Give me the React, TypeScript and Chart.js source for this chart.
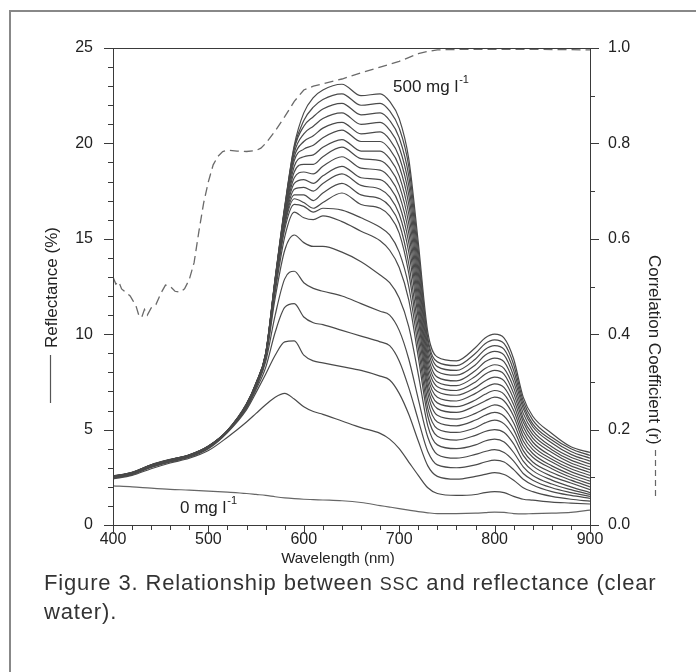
import React, { useEffect, useRef } from 'react';
import { Chart, registerables } from 'chart.js';

Chart.register(...registerables);

// Wavelength grid (nm) shared by all reflectance spectra
const WAVELENGTHS = [400, 420, 440, 460, 480, 500, 520, 540, 550, 560, 570, 580, 590, 600, 610, 620, 640, 660, 680, 690, 700, 710, 720, 730, 740, 760, 780, 790, 800, 810, 820, 830, 840, 860, 880, 900];

// Reflectance (%) for each SSC level (mg/l)
const R_0 = [2.05, 2.0, 1.93, 1.87, 1.83, 1.78, 1.72, 1.65, 1.6, 1.55, 1.48, 1.42, 1.38, 1.35, 1.33, 1.31, 1.27, 1.18, 1.02, 0.94, 0.86, 0.78, 0.7, 0.64, 0.6, 0.6, 0.62, 0.65, 0.68, 0.66, 0.6, 0.58, 0.6, 0.62, 0.66, 0.78];
const R_25 = [2.42, 2.6, 2.95, 3.25, 3.5, 3.9, 4.6, 5.4, 5.85, 6.3, 6.7, 6.9, 6.6, 6.2, 5.95, 5.8, 5.45, 5.1, 4.8, 4.5, 4.0, 3.3, 2.6, 1.95, 1.65, 1.55, 1.6, 1.7, 1.75, 1.7, 1.5, 1.35, 1.3, 1.2, 1.15, 1.1];
const R_50 = [2.45, 2.64, 3.02, 3.3, 3.55, 4.0, 4.85, 6.05, 6.95, 7.9, 8.9, 9.6, 9.65, 8.9, 8.6, 8.5, 8.3, 8.1, 7.8, 7.6, 6.9, 5.8, 4.4, 3.1, 2.55, 2.4, 2.55, 2.65, 2.75, 2.65, 2.35, 1.95, 1.75, 1.5, 1.35, 1.25];
const R_75 = [2.46, 2.66, 3.04, 3.32, 3.57, 4.03, 4.88, 6.12, 7.1, 8.25, 10.1, 11.4, 11.6, 10.9, 10.6, 10.5, 10.2, 9.9, 9.6, 9.4, 8.6, 7.2, 5.5, 3.85, 3.15, 3.0, 3.15, 3.3, 3.4, 3.3, 2.9, 2.4, 2.1, 1.75, 1.55, 1.4];
const R_100 = [2.47, 2.67, 3.06, 3.34, 3.59, 4.05, 4.9, 6.18, 7.2, 8.55, 11.0, 12.9, 13.3, 12.7, 12.4, 12.25, 12.0, 11.6, 11.2, 11.0, 10.2, 8.7, 6.6, 4.6, 3.7, 3.5, 3.7, 3.85, 3.95, 3.8, 3.35, 2.7, 2.35, 1.95, 1.7, 1.5];
const R_125 = [2.48, 2.68, 3.07, 3.35, 3.6, 4.06, 4.9, 6.2, 7.27, 8.7, 11.9, 14.4, 15.2, 14.8, 14.6, 14.6, 14.3, 13.8, 13.1, 12.7, 11.9, 10.4, 7.9, 5.2, 4.2, 4.0, 4.2, 4.4, 4.5, 4.35, 3.8, 3.05, 2.6, 2.15, 1.85, 1.6];
const R_150 = [2.49, 2.69, 3.08, 3.36, 3.61, 4.07, 4.9, 6.22, 7.3, 8.8, 12.2, 15.1, 16.4, 16.1, 16.0, 16.2, 15.9, 15.4, 14.9, 14.4, 13.5, 11.8, 8.8, 5.7, 4.65, 4.45, 4.7, 4.9, 5.0, 4.85, 4.25, 3.35, 2.85, 2.35, 2.0, 1.7];
const R_175 = [2.5, 2.7, 3.09, 3.37, 3.62, 4.08, 4.9, 6.24, 7.32, 8.85, 12.4, 15.5, 16.8, 16.7, 16.4, 16.6, 16.5, 16.1, 15.6, 15.2, 14.3, 12.5, 9.3, 6.1, 5.05, 4.85, 5.1, 5.35, 5.5, 5.3, 4.65, 3.65, 3.1, 2.55, 2.2, 1.85];
const R_200 = [2.5, 2.7, 3.1, 3.38, 3.62, 4.08, 4.9, 6.25, 7.34, 8.85, 12.5, 15.7, 17.1, 16.9, 16.6, 16.9, 17.4, 16.8, 16.6, 16.2, 15.3, 13.2, 9.8, 6.5, 5.4, 5.2, 5.5, 5.75, 5.9, 5.7, 5.0, 3.9, 3.3, 2.75, 2.35, 2.0];
const R_225 = [2.51, 2.71, 3.1, 3.38, 3.63, 4.09, 4.91, 6.26, 7.35, 8.85, 12.5, 15.8, 17.3, 17.3, 17.0, 17.4, 17.9, 17.3, 17.1, 16.7, 15.8, 13.7, 10.3, 6.9, 5.75, 5.55, 5.85, 6.1, 6.3, 6.1, 5.35, 4.15, 3.55, 2.95, 2.5, 2.15];
const R_250 = [2.52, 2.71, 3.11, 3.39, 3.63, 4.09, 4.91, 6.27, 7.36, 8.9, 12.6, 15.9, 17.6, 17.7, 17.5, 17.9, 18.4, 17.8, 17.6, 17.2, 16.3, 14.3, 10.8, 7.2, 6.1, 5.9, 6.25, 6.5, 6.7, 6.5, 5.7, 4.4, 3.75, 3.1, 2.65, 2.3];
const R_275 = [2.52, 2.72, 3.11, 3.39, 3.64, 4.1, 4.92, 6.28, 7.37, 8.9, 12.6, 16.0, 17.9, 18.1, 17.9, 18.3, 18.8, 18.2, 18.1, 17.7, 16.8, 14.8, 11.2, 7.5, 6.4, 6.2, 6.55, 6.85, 7.05, 6.85, 6.0, 4.65, 3.95, 3.3, 2.8, 2.45];
const R_300 = [2.53, 2.72, 3.12, 3.4, 3.64, 4.1, 4.92, 6.29, 7.38, 8.9, 12.7, 16.1, 18.2, 18.5, 18.4, 18.8, 19.3, 18.7, 18.6, 18.2, 17.3, 15.3, 11.6, 7.8, 6.7, 6.5, 6.9, 7.2, 7.4, 7.2, 6.3, 4.9, 4.15, 3.45, 2.95, 2.6];
const R_325 = [2.53, 2.73, 3.12, 3.4, 3.65, 4.11, 4.93, 6.3, 7.39, 8.92, 12.7, 16.2, 18.5, 18.9, 18.9, 19.3, 19.8, 19.2, 19.1, 18.7, 17.8, 15.8, 12.0, 8.1, 7.0, 6.8, 7.2, 7.55, 7.75, 7.55, 6.6, 5.15, 4.35, 3.6, 3.1, 2.75];
const R_350 = [2.54, 2.73, 3.13, 3.41, 3.65, 4.11, 4.93, 6.3, 7.4, 8.93, 12.8, 16.3, 18.8, 19.3, 19.4, 19.8, 20.2, 19.6, 19.6, 19.2, 18.3, 16.3, 12.4, 8.4, 7.25, 7.05, 7.5, 7.9, 8.1, 7.9, 6.9, 5.4, 4.55, 3.8, 3.25, 2.9];
const R_375 = [2.54, 2.74, 3.13, 3.41, 3.66, 4.12, 4.94, 6.31, 7.41, 8.94, 12.8, 16.4, 19.1, 19.7, 19.9, 20.3, 20.7, 20.1, 20.1, 19.7, 18.8, 16.8, 12.8, 8.7, 7.5, 7.3, 7.8, 8.2, 8.4, 8.2, 7.2, 5.6, 4.75, 3.95, 3.4, 3.05];
const R_400 = [2.55, 2.74, 3.14, 3.42, 3.66, 4.12, 4.94, 6.32, 7.42, 8.95, 12.85, 16.5, 19.3, 20.1, 20.4, 20.8, 21.1, 20.5, 20.6, 20.2, 19.3, 17.3, 13.2, 9.0, 7.75, 7.55, 8.1, 8.55, 8.75, 8.55, 7.5, 5.85, 4.95, 4.1, 3.55, 3.2];
const R_425 = [2.55, 2.75, 3.14, 3.42, 3.67, 4.13, 4.95, 6.33, 7.43, 8.96, 12.85, 16.55, 19.5, 20.5, 20.9, 21.3, 21.6, 21.0, 21.1, 20.7, 19.8, 17.8, 13.6, 9.3, 8.05, 7.85, 8.4, 8.9, 9.1, 8.9, 7.8, 6.1, 5.15, 4.3, 3.7, 3.35];
const R_450 = [2.56, 2.75, 3.15, 3.43, 3.67, 4.13, 4.95, 6.34, 7.44, 8.97, 12.9, 16.6, 19.7, 20.9, 21.4, 21.8, 22.1, 21.5, 21.6, 21.2, 20.3, 18.3, 14.0, 9.6, 8.3, 8.1, 8.7, 9.2, 9.4, 9.2, 8.1, 6.3, 5.3, 4.45, 3.85, 3.5];
const R_475 = [2.56, 2.76, 3.15, 3.43, 3.68, 4.14, 4.96, 6.35, 7.45, 8.98, 12.9, 16.65, 19.8, 21.2, 21.9, 22.3, 22.6, 22.0, 22.1, 21.7, 20.8, 18.8, 14.4, 9.8, 8.55, 8.35, 9.0, 9.5, 9.7, 9.5, 8.4, 6.5, 5.5, 4.6, 4.0, 3.65];
const R_500 = [2.57, 2.76, 3.16, 3.44, 3.68, 4.14, 4.96, 6.36, 7.46, 9.0, 12.95, 16.7, 19.9, 21.6, 22.4, 22.8, 23.1, 22.5, 22.6, 22.2, 21.3, 19.2, 14.8, 10.1, 8.8, 8.6, 9.3, 9.8, 10.0, 9.8, 8.7, 6.7, 5.7, 4.8, 4.1, 3.8];

const SPECTRA = [R_0, R_25, R_50, R_75, R_100, R_125, R_150, R_175, R_200, R_225, R_250, R_275, R_300, R_325, R_350, R_375, R_400, R_425, R_450, R_475, R_500];

// Correlation coefficient (r) between SSC and reflectance
const CORR_WAVELENGTHS = [400, 403, 406, 409, 412, 415, 418, 421, 424, 427, 430, 433, 436, 440, 445, 450, 455, 460, 465, 470, 475, 480, 485, 490, 495, 500, 505, 510, 515, 520, 530, 540, 550, 555, 560, 570, 580, 590, 600, 610, 620, 640, 660, 680, 700, 720, 730, 740, 760, 800, 850, 900];
const CORR_R = [0.52, 0.505, 0.51, 0.495, 0.49, 0.485, 0.48, 0.47, 0.46, 0.44, 0.435, 0.452, 0.44, 0.455, 0.462, 0.485, 0.503, 0.5, 0.49, 0.488, 0.495, 0.515, 0.55, 0.615, 0.675, 0.72, 0.755, 0.773, 0.783, 0.786, 0.784, 0.783, 0.785, 0.79, 0.8, 0.826, 0.856, 0.888, 0.912, 0.92, 0.925, 0.935, 0.948, 0.96, 0.972, 0.988, 0.993, 0.996, 0.997, 0.997, 0.997, 0.996];

// Axis ticks
const X_TICKS = [400, 500, 600, 700, 800, 900];
const Y_TICKS = [0, 5, 10, 15, 20, 25];
const R_TICKS = ['0.0', '0.2', '0.4', '0.6', '0.8', '1.0'];

const FONT = '"Liberation Sans", Arial, Helvetica, sans-serif';
const AXIS = '#3a3a3a';
const TEXT = '#222';

const decor = {
  id: 'decor',
  afterDraw(chart: any) {
    const { ctx, chartArea: a, scales } = chart;
    const x = scales.x;
    const y = scales.y;
    const y2 = scales.y2;
    ctx.save();
    ctx.strokeStyle = AXIS;
    ctx.lineWidth = 1;
    ctx.strokeRect(Math.round(a.left) + 0.5, Math.round(a.top) + 0.5, Math.round(a.right - a.left), Math.round(a.bottom - a.top));
    ctx.beginPath();
    for (let v = 0; v <= 25; v += 1) {
      const p = Math.round(y.getPixelForValue(v)) + 0.5;
      const len = v % 5 === 0 ? 9 : 5;
      ctx.moveTo(a.left - len, p);
      ctx.lineTo(a.left, p);
    }
    for (let i = 0; i <= 10; i += 1) {
      const p = Math.round(y2.getPixelForValue(i / 10)) + 0.5;
      const len = i % 2 === 0 ? 9 : 5;
      ctx.moveTo(a.right, p);
      ctx.lineTo(a.right + len, p);
    }
    for (let w = 400; w <= 900; w += 20) {
      const p = Math.round(x.getPixelForValue(w)) + 0.5;
      const len = w % 100 === 0 ? 9 : 5;
      ctx.moveTo(p, a.bottom);
      ctx.lineTo(p, a.bottom + len);
    }
    ctx.stroke();

    ctx.fillStyle = TEXT;
    // left axis title with solid-line key
    ctx.save();
    ctx.translate(52, 348);
    ctx.rotate(-Math.PI / 2);
    ctx.font = `17px ${FONT}`;
    ctx.textAlign = 'left';
    ctx.textBaseline = 'middle';
    ctx.fillText('Reflectance (%)', 0, 0);
    ctx.restore();
    ctx.beginPath();
    ctx.strokeStyle = '#555';
    ctx.lineWidth = 1.2;
    ctx.moveTo(50.5, 355);
    ctx.lineTo(50.5, 403);
    ctx.stroke();

    // right axis title with dashed key
    ctx.save();
    ctx.translate(654, 255);
    ctx.rotate(Math.PI / 2);
    ctx.font = `17px ${FONT}`;
    ctx.textAlign = 'left';
    ctx.textBaseline = 'middle';
    ctx.fillText('Correlation Coefficient (r)', 0, 0);
    ctx.restore();
    ctx.beginPath();
    ctx.setLineDash([6, 4]);
    ctx.strokeStyle = '#666';
    ctx.lineWidth = 1.2;
    ctx.moveTo(655.5, 450);
    ctx.lineTo(655.5, 500);
    ctx.stroke();
    ctx.setLineDash([]);

    // x title
    ctx.font = `15px ${FONT}`;
    ctx.textAlign = 'center';
    ctx.textBaseline = 'middle';
    ctx.fillText('Wavelength (nm)', 338, 559);

    // curve annotations
    ctx.textAlign = 'left';
    ctx.font = `17px ${FONT}`;
    ctx.fillText('500 mg l', 393, 87);
    const w1 = ctx.measureText('500 mg l').width;
    ctx.font = `11px ${FONT}`;
    ctx.fillText('-1', 393 + w1 + 1, 80);
    ctx.font = `17px ${FONT}`;
    ctx.fillText('0 mg l', 180, 508);
    const w2 = ctx.measureText('0 mg l').width;
    ctx.font = `11px ${FONT}`;
    ctx.fillText('-1', 180 + w2 + 1, 501);
    ctx.restore();
  },
};

export default function App() {
  const ref = useRef<HTMLCanvasElement>(null);
  useEffect(() => {
    const datasets: any[] = SPECTRA.map((vals, k) => ({
      data: WAVELENGTHS.map((w, i) => ({ x: w, y: vals[i] })),
      yAxisID: 'y',
      borderColor: k === 0 ? '#666' : '#4a4a4a',
      borderWidth: 1.2,
      pointRadius: 0,
      fill: false,
      cubicInterpolationMode: 'monotone',
    }));
    datasets.push({
      data: CORR_WAVELENGTHS.map((w, i) => ({ x: w, y: CORR_R[i] })),
      yAxisID: 'y2',
      borderColor: '#6a6a6a',
      borderWidth: 1.3,
      borderDash: [9, 5],
      pointRadius: 0,
      fill: false,
      tension: 0,
    });
    const tickFont = { family: FONT, size: 16 };
    const chart = new Chart(ref.current as HTMLCanvasElement, {
      type: 'line',
      data: { datasets },
      options: {
        animation: false,
        responsive: false,
        events: [],
        layout: { padding: { top: 48, left: 0, right: 0, bottom: 0 } },
        plugins: { legend: { display: false }, tooltip: { enabled: false } },
        scales: {
          x: {
            type: 'linear',
            min: 400,
            max: 900,
            afterFit: (s: any) => { s.height = 147; },
            afterBuildTicks: (s: any) => { s.ticks = X_TICKS.map((v) => ({ value: v })); },
            grid: { display: true, drawOnChartArea: false, drawTicks: false },
            border: { display: false },
            ticks: { font: tickFont, color: TEXT, padding: 5, maxRotation: 0 },
          },
          y: {
            type: 'linear',
            position: 'left',
            min: 0,
            max: 25,
            afterFit: (s: any) => { s.width = 113; },
            afterBuildTicks: (s: any) => { s.ticks = Y_TICKS.map((v) => ({ value: v })); },
            grid: { display: true, drawOnChartArea: false, drawTicks: false },
            border: { display: false },
            ticks: { font: tickFont, color: TEXT, padding: 20 },
          },
          y2: {
            type: 'linear',
            position: 'right',
            min: 0,
            max: 1,
            afterFit: (s: any) => { s.width = 106; },
            afterBuildTicks: (s: any) => { s.ticks = R_TICKS.map((v) => ({ value: parseFloat(v) })); },
            grid: { display: true, drawOnChartArea: false, drawTicks: false },
            border: { display: false },
            ticks: { font: tickFont, color: TEXT, padding: 18, callback: (v: any) => Number(v).toFixed(1) },
          },
        },
      } as any,
      plugins: [decor],
    });
    return () => chart.destroy();
  }, []);

  return (
    <div style={{ position: 'absolute', left: 0, top: 0, width: 696, height: 672, background: '#fff', overflow: 'hidden' }}>
      <div style={{ position: 'absolute', left: 9, top: 10, width: 700, height: 700, borderLeft: '2px solid #888', borderTop: '2px solid #888', boxSizing: 'border-box' }} />
      <canvas ref={ref} width={696} height={672} style={{ position: 'absolute', left: 0, top: 0, width: 696, height: 672 }} />
      <div style={{ position: 'absolute', left: 44, top: 569, width: 650, fontFamily: FONT, fontSize: 22, lineHeight: '28px', color: '#333', letterSpacing: '0.85px', whiteSpace: 'nowrap' }}>
        Figure 3. Relationship between <span style={{ fontSize: 18 }}>SSC</span> and reflectance (clear
        <br />
        water).
      </div>
    </div>
  );
}
